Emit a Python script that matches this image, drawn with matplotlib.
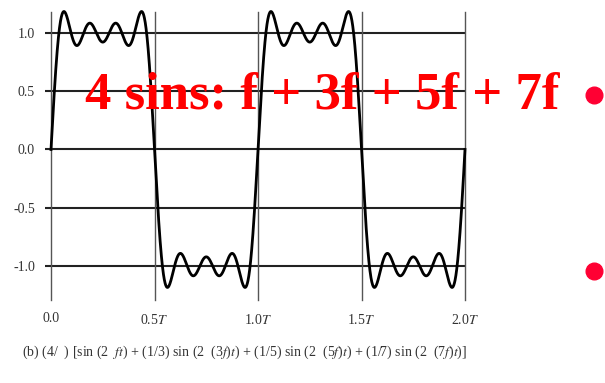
import matplotlib
matplotlib.use('Agg')
import matplotlib.pyplot as plt
import numpy as np

plt.rcParams['font.family'] = ['Liberation Serif', 'DejaVu Serif']
plt.rcParams['mathtext.fontset'] = 'stix'

# square wave built from 4 odd harmonics: (4/pi) * sum (1/n) sin(2 pi n f t)
harmonics = [1, 3, 5, 7]
amplitudes = [1, 1/3, 1/5, 1/7]

x_ticks = [0.0, 0.5, 1.0, 1.5, 2.0]
x_labels = ['0.0', '0.5$T$', '1.0$T$', '1.5$T$', '2.0$T$']
y_ticks = [-1.0, -0.5, 0.0, 0.5, 1.0]
y_labels = ['-1.0', '-0.5', '0.0', '0.5', '1.0']

title = '4 sins: f + 3f + 5f + 7f'
caption = (r'(b) (4/  ) [sin (2  $ft$) + (1/3) sin (2  (3$f$)$t$) + (1/5) sin (2  (5$f$)$t$)'
           r' + (1/7) sin (2  (7$f$)$t$)]')

t = np.linspace(0, 2, 2000)
y = np.zeros_like(t)
for n, a in zip(harmonics, amplitudes):
	y += a * np.sin(2 * np.pi * n * t)
y *= 4 / np.pi

fig = plt.figure(figsize=(6.05, 3.83), dpi=100)
ax = fig.add_axes([51/605, 1 - 300/383, (465 - 51)/605, (300 - 12)/383])

for yt in y_ticks:
	ax.axhline(yt, color='#222222', lw=1.5, zorder=1)
for xt in x_ticks:
	ax.axvline(xt, color='#555555', lw=1.0, zorder=1, clip_on=False)

ax.plot(t, y, color='black', lw=2.0, zorder=3, clip_on=False)

ax.set_xlim(0, 2)
ax.set_ylim(-1.292, 1.18)
for s in ax.spines.values():
	s.set_visible(False)

ax.set_yticks(y_ticks)
ax.set_yticklabels(y_labels)
ax.set_xticks(x_ticks)
ax.set_xticklabels(x_labels)
ax.tick_params(axis='y', length=4.5, width=1.5, color='#222222', pad=7, labelsize=10, labelcolor='#333333')
ax.tick_params(axis='x', length=0, pad=9, labelsize=10, labelcolor='#333333')

fig.text(22/605, 1 - 352/383, caption, fontsize=10, color='#333333', va='center', ha='left')

fig.text(85/605, 1 - 108/383, title, fontsize=38, fontweight='bold', color='#ff0000',
	va='baseline', ha='left')

bullet_x = [594/605, 594/605]
bullet_y = [1 - 95/383, 1 - 271/383]
fig.add_artist(plt.Line2D(bullet_x, bullet_y, transform=fig.transFigure, ls='none',
	marker='o', markersize=12, color='#ff0033'))

plt.savefig('out.png', dpi=100)
